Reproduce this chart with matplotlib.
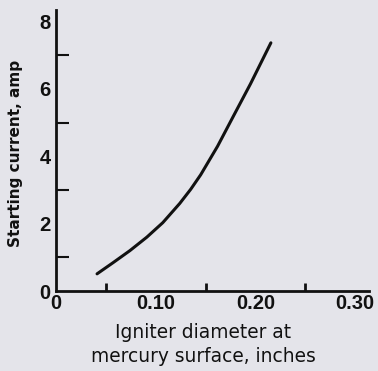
import matplotlib
matplotlib.use("Agg")
import matplotlib.pyplot as plt
from matplotlib.ticker import FixedLocator

# curve
diameter = [0.041, 0.057, 0.074, 0.091, 0.107, 0.124, 0.135, 0.145, 0.162, 0.178, 0.195, 0.2155]
current = [0.51, 0.84, 1.2, 1.6, 2.03, 2.6, 3.02, 3.45, 4.3, 5.2, 6.15, 7.37]

x_major = [0, 0.10, 0.20, 0.30]
x_labels = ['0', '0.10', '0.20', '0.30']
x_ticks = [0.05, 0.10, 0.15, 0.20, 0.25, 0.30]
y_major = [0, 2, 4, 6, 8]
y_ticks = [1, 2, 3, 4, 5, 6, 7, 8]

bg = '#e4e4ea'
ink = '#111111'

fig = plt.figure(figsize=(3.78, 3.71), dpi=100, facecolor=bg)
ax = fig.add_axes([0.1487, 0.2156, 0.8275, 0.757], facecolor=bg)

ax.plot(diameter, current, color=ink, lw=2.2, solid_capstyle='round')

ax.set_xlim(0, 0.314)
ax.set_ylim(0, 8.34)

for s in ['top', 'right']:
    ax.spines[s].set_visible(False)
for s in ['left', 'bottom']:
    ax.spines[s].set_linewidth(2)
    ax.spines[s].set_color(ink)

# labels on the major locator, the short inner marks on the minor one
ax.xaxis.set_major_locator(FixedLocator(x_major))
ax.set_xticklabels(x_labels)
ax.xaxis.set_minor_locator(FixedLocator(x_ticks))
ax.yaxis.set_major_locator(FixedLocator(y_major))
ax.yaxis.set_minor_locator(FixedLocator(y_ticks))

ax.tick_params(which='major', length=0, colors=ink, labelsize=14.5)
ax.tick_params(axis='x', which='major', pad=2.5)
ax.tick_params(axis='y', which='major', pad=4)
ax.tick_params(axis='x', which='minor', direction='in', length=6, width=2, colors=ink)
ax.tick_params(axis='y', which='minor', direction='in', length=9, width=1.5, colors=ink)
for lab in ax.get_xticklabels() + ax.get_yticklabels():
    lab.set_family('Liberation Sans')
    lab.set_fontweight('bold')

ax.set_xlabel('Igniter diameter at\nmercury surface, inches', fontsize=13.4,
              color=ink, linespacing=1.3)
ax.xaxis.set_label_coords(0.47, -0.115)
ax.xaxis.label.set_va('top')

ax.set_ylabel('Starting current, amp', fontsize=11, fontweight='bold', color=ink)
ax.yaxis.set_label_coords(-0.131, 0.49)
ax.yaxis.label.set_va('center')

fig.savefig('out.png', dpi=100, facecolor=bg)
